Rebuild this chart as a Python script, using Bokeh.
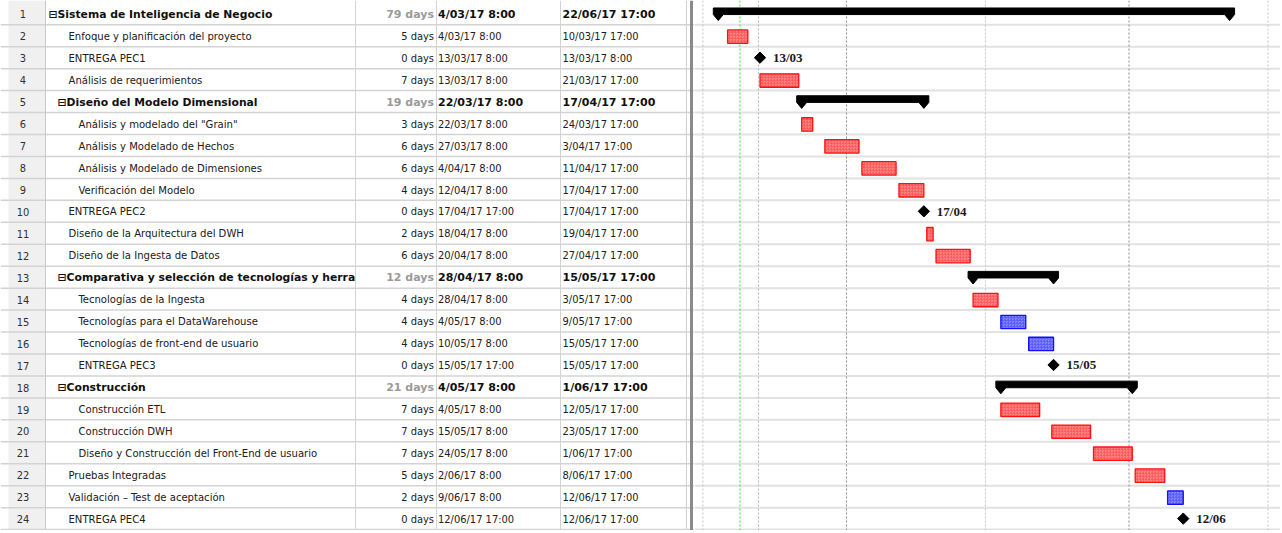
import pandas as pd
from bokeh.plotting import figure
from bokeh.layouts import row
from bokeh.models import Range1d, ColumnDataSource, Span
from bokeh.core.properties import value
from bokeh.embed import file_html
from bokeh.resources import INLINE

# ---------------- data ----------------
task_ids = list(range(1, 25))
task_names = [
    "Sistema de Inteligencia de Negocio",
    "Enfoque y planificación del proyecto",
    "ENTREGA PEC1",
    "Análisis de requerimientos",
    "Diseño del Modelo Dimensional",
    "Análisis y modelado del \"Grain\"",
    "Análisis y Modelado de Hechos",
    "Análisis y Modelado de Dimensiones",
    "Verificación del Modelo",
    "ENTREGA PEC2",
    "Diseño de la Arquitectura del DWH",
    "Diseño de la Ingesta de Datos",
    "Comparativa y selección de tecnologías y herra",
    "Tecnologías de la Ingesta",
    "Tecnologías para el DataWarehouse",
    "Tecnologías de front-end de usuario",
    "ENTREGA PEC3",
    "Construcción",
    "Construcción ETL",
    "Construcción DWH",
    "Diseño y Construcción del Front-End de usuario",
    "Pruebas Integradas",
    "Validación – Test de aceptación",
    "ENTREGA PEC4",
]
outline_levels = [1, 2, 2, 2, 2, 3, 3, 3, 3, 2, 2, 2, 2, 3, 3, 3, 3, 2, 3, 3, 3, 2, 2, 2]
is_summary = [1, 0, 0, 0, 1, 0, 0, 0, 0, 0, 0, 0, 1, 0, 0, 0, 0, 1, 0, 0, 0, 0, 0, 0]
duration_days = [79, 5, 0, 7, 19, 3, 6, 6, 4, 0, 2, 6, 12, 4, 4, 4, 0, 21, 7, 7, 7, 5, 2, 0]
start_text = [
    "4/03/17 8:00", "4/03/17 8:00", "13/03/17 8:00", "13/03/17 8:00", "22/03/17 8:00",
    "22/03/17 8:00", "27/03/17 8:00", "4/04/17 8:00", "12/04/17 8:00", "17/04/17 17:00",
    "18/04/17 8:00", "20/04/17 8:00", "28/04/17 8:00", "28/04/17 8:00", "4/05/17 8:00",
    "10/05/17 8:00", "15/05/17 17:00", "4/05/17 8:00", "4/05/17 8:00", "15/05/17 8:00",
    "24/05/17 8:00", "2/06/17 8:00", "9/06/17 8:00", "12/06/17 17:00",
]
finish_text = [
    "22/06/17 17:00", "10/03/17 17:00", "13/03/17 8:00", "21/03/17 17:00", "17/04/17 17:00",
    "24/03/17 17:00", "3/04/17 17:00", "11/04/17 17:00", "17/04/17 17:00", "17/04/17 17:00",
    "19/04/17 17:00", "27/04/17 17:00", "15/05/17 17:00", "3/05/17 17:00", "9/05/17 17:00",
    "15/05/17 17:00", "15/05/17 17:00", "1/06/17 17:00", "12/05/17 17:00", "23/05/17 17:00",
    "1/06/17 17:00", "8/06/17 17:00", "12/06/17 17:00", "12/06/17 17:00",
]
# bar style category: r = red task, b = blue task
bar_kind = ["", "r", "", "r", "", "r", "r", "r", "r", "", "r", "r", "", "r", "b",
            "b", "", "", "r", "r", "r", "r", "b", ""]
grid_dates = ["2017-03-01", "2017-03-13", "2017-04-01", "2017-05-01", "2017-06-01", "2017-07-01"]
grid_colors = ["#c4c4c4", "#b4b4b4", "#8c8c8c", "#c4c4c4", "#8c8c8c", "#c4c4c4"]
today_date = "2017-03-09"

# ---------------- geometry ----------------
PX_PER_DAY = 4.632
ROW_PX = 21.95
MS_PER_PX = 86400000.0 / PX_PER_DAY
H = 530
TABLE_W = 694
GANTT_W = 586
Y_TOP = (0 - 2.3) / ROW_PX + 0.5
Y_BOT = Y_TOP + H / ROW_PX


def ms(ts):
    return pd.Timestamp(ts).value / 1e6


def parse(s):
    return pd.to_datetime(s, format="%d/%m/%y %H:%M")


starts = [parse(s) for s in start_text]
finishes = [parse(s) for s in finish_text]


def working_start(t):
    while t.weekday() >= 5:
        t = (t + pd.Timedelta(days=1)).normalize() + pd.Timedelta(hours=8)
    return t


rows = task_ids
yr = Range1d(start=Y_BOT, end=Y_TOP)

# ---------------- table ----------------
t = figure(width=TABLE_W, height=H, x_range=Range1d(0, TABLE_W), y_range=yr,
           output_backend="svg", toolbar_location=None, x_axis_location=None,
           y_axis_location=None, min_border=0, outline_line_color=None)
t.grid.visible = False

t.quad(left=[8], right=[45], top=[Y_TOP], bottom=[Y_BOT], fill_color="#f0f0f0", line_color=None)
for k in range(1, 26):
    t.add_layout(Span(location=k + 0.5, dimension="width", line_color="#d3d3d3", line_width=1.5))
for cx, col in [(45, "#c8c8c8"), (355, "#d3d3d3"), (436, "#d3d3d3"), (560, "#d3d3d3"), (686, "#d0d0d0")]:
    t.add_layout(Span(location=cx, dimension="height", line_color=col, line_width=1))
t.add_layout(Span(location=691, dimension="height", line_color="#8a8a8a", line_width=3))

name_x = [(39 + 9 * lv) if s else (48 + 10 * lv) for lv, s in zip(outline_levels, is_summary)]
name_txt = [("⊟" + n) if s else n for n, s in zip(task_names, is_summary)]
ty = [r + 0.03 for r in rows]

REG = value("DejaVu Sans Condensed")
BOLD = value("DejaVu Sans")


def put(xs, texts, align, color, bold_color=None, fs="11.2px", bfs="11px"):
    norm = [i for i, s in enumerate(is_summary) if not s]
    summ = [i for i, s in enumerate(is_summary) if s]
    t.text(x=[xs[i] for i in norm], y=[ty[i] for i in norm], text=[texts[i] for i in norm],
           text_font=REG, text_font_size=fs, text_align=align, text_baseline="middle",
           text_color=color)
    t.text(x=[xs[i] for i in summ], y=[ty[i] for i in summ], text=[texts[i] for i in summ],
           text_font=BOLD, text_font_size=bfs, text_font_style="bold", text_align=align,
           text_baseline="middle", text_color=bold_color or color)


t.text(x=[22.5] * 24, y=ty, text=[str(i) for i in task_ids], text_font=REG,
       text_font_size="11px", text_align="center", text_baseline="middle", text_color="#303030")
put(name_x, name_txt, "left", "#202020", "#101010", bfs="10.8px")
put([433.5] * 24, [f"{d} days" for d in duration_days], "right", "#202020", "#9a9a9a", fs="11px")
put([437.5] * 24, start_text, "left", "#202020", "#101010", fs="11px")
put([562] * 24, finish_text, "left", "#202020", "#101010", fs="11px")

# ---------------- gantt ----------------
x0 = ms("2017-03-13 08:00") - (759.5 - TABLE_W) * MS_PER_PX
g = figure(width=GANTT_W, height=H, x_range=Range1d(x0, x0 + GANTT_W * MS_PER_PX), y_range=yr,
           output_backend="svg", toolbar_location=None, x_axis_location=None,
           y_axis_location=None, min_border=0, outline_line_color=None)
g.grid.visible = False

for k in range(1, 26):
    g.add_layout(Span(location=k + 0.5, dimension="width", line_color="#e2e2e2", line_width=2,
                      level="underlay"))
for d, c in zip(grid_dates, grid_colors):
    g.add_layout(Span(location=ms(d), dimension="height", line_color=c, line_width=1,
                      line_dash="2 2", level="underlay"))
g.add_layout(Span(location=ms(today_date), dimension="height", line_color="#33dd33",
                  line_width=1, line_dash="2 2", level="underlay"))

# task bars
for kind, fill, edge, hatch in [("r", "#ff8c8c", "#ff1010", "#ff5050"),
                                ("b", "#8c8cff", "#1010ff", "#5050ff")]:
    idx = [i for i, k in enumerate(bar_kind) if k == kind]
    src = ColumnDataSource(dict(
        left=[ms(working_start(starts[i])) for i in idx],
        right=[ms(finishes[i]) for i in idx],
        top=[rows[i] - 5.8 / ROW_PX for i in idx],
        bottom=[rows[i] + 7.6 / ROW_PX for i in idx],
    ))
    g.quad(left="left", right="right", top="top", bottom="bottom", source=src,
           fill_color=fill, line_color=edge, line_width=1.3,
           hatch_pattern="criss_cross", hatch_color=hatch, hatch_scale=3, hatch_weight=0.8,
           hatch_alpha=0.7)

# summary bars
xs, ys = [], []
d = 5 * MS_PER_PX
for i, s in enumerate(is_summary):
    if not s:
        continue
    a, b, r = ms(starts[i]), ms(finishes[i]), rows[i]
    top, mid, tip = r - 5.8 / ROW_PX, r + 0.8 / ROW_PX, r + 6.8 / ROW_PX
    xs.append([a - d, b + d, b + d, b, b - d, a + d, a, a - d])
    ys.append([top, top, mid, tip, mid, mid, tip, mid])
g.patches(xs=xs, ys=ys, fill_color="black", line_color="black", line_width=1)

# milestones
mi = [i for i, dd in enumerate(duration_days) if dd == 0]
msrc = ColumnDataSource(dict(
    x=[ms(finishes[i]) for i in mi],
    y=[rows[i] for i in mi],
    lx=[ms(finishes[i]) + 13 * MS_PER_PX for i in mi],
    lab=[finishes[i].strftime("%d/%m") for i in mi],
))
g.scatter(x="x", y="y", source=msrc, marker="square", angle=0.785398, size=8,
          fill_color="black", line_color="black")
g.text(x="lx", y="y", text="lab", source=msrc, text_font=value("Liberation Serif"),
       text_font_size="13px", text_font_style="bold", text_baseline="middle",
       text_color="#1a1a1a")

layout = row(t, g)
open("out.html", "w").write(file_html(layout, INLINE))
